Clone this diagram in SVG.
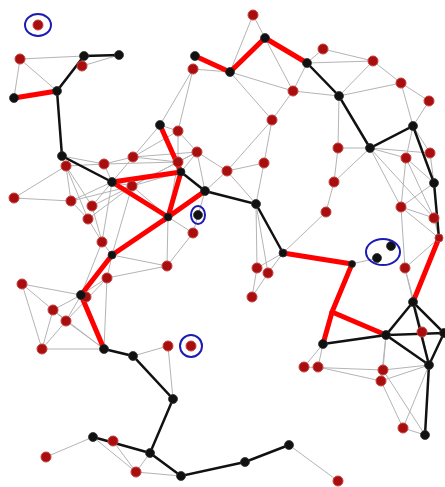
<svg xmlns="http://www.w3.org/2000/svg" width="445" height="487" viewBox="0 0 445 487">
<style>
.g{stroke:#b4b4b4;stroke-width:1;fill:none}
.r{stroke:#ff0000;stroke-width:5;stroke-linecap:round;fill:none}
.k{stroke:#111;stroke-width:2.5;stroke-linecap:round;fill:none}
.rn{fill:#a80e0e;stroke:#c84040;stroke-width:1}
.bn{fill:#111;stroke:#333;stroke-width:0.8}
.ring{fill:none;stroke:#1c1cb4;stroke-width:2}
</style>
<rect width="445" height="487" fill="#fff"/>
<g id="connectors">
<g id="gray">
<line class="g" x1="20" y1="59" x2="84" y2="56"/><line class="g" x1="20" y1="59" x2="57" y2="91"/><line class="g" x1="20" y1="59" x2="14" y2="98"/><line class="g" x1="82" y1="66" x2="119" y2="55"/>
<line class="g" x1="253" y1="15" x2="265" y2="38"/><line class="g" x1="253" y1="15" x2="230" y2="72"/><line class="g" x1="193" y1="69" x2="230" y2="72"/><line class="g" x1="193" y1="69" x2="160" y2="125"/><line class="g" x1="193" y1="69" x2="178" y2="131"/>
<line class="g" x1="230" y1="72" x2="272" y2="120"/><line class="g" x1="230" y1="72" x2="293" y2="91"/><line class="g" x1="265" y1="38" x2="293" y2="91"/><line class="g" x1="293" y1="91" x2="272" y2="120"/><line class="g" x1="293" y1="91" x2="307" y2="63"/><line class="g" x1="293" y1="91" x2="339" y2="96"/>
<line class="g" x1="307" y1="63" x2="323" y2="49"/><line class="g" x1="323" y1="49" x2="373" y2="61"/><line class="g" x1="307" y1="63" x2="373" y2="61"/><line class="g" x1="373" y1="61" x2="401" y2="83"/><line class="g" x1="401" y1="83" x2="429" y2="101"/><line class="g" x1="373" y1="61" x2="339" y2="96"/><line class="g" x1="339" y1="96" x2="401" y2="83"/><line class="g" x1="401" y1="83" x2="413" y2="126"/><line class="g" x1="429" y1="101" x2="413" y2="126"/>
<line class="g" x1="339" y1="96" x2="338" y2="148"/><line class="g" x1="338" y1="148" x2="370" y2="148"/><line class="g" x1="370" y1="148" x2="406" y2="158"/><line class="g" x1="370" y1="148" x2="430" y2="153"/><line class="g" x1="413" y1="126" x2="406" y2="158"/><line class="g" x1="413" y1="126" x2="430" y2="153"/><line class="g" x1="406" y1="158" x2="434" y2="183"/><line class="g" x1="430" y1="153" x2="434" y2="183"/>
<line class="g" x1="338" y1="148" x2="334" y2="182"/><line class="g" x1="334" y1="182" x2="326" y2="212"/><line class="g" x1="370" y1="148" x2="401" y2="207"/><line class="g" x1="370" y1="148" x2="334" y2="182"/><line class="g" x1="370" y1="148" x2="434" y2="218"/><line class="g" x1="406" y1="158" x2="401" y2="207"/><line class="g" x1="401" y1="207" x2="434" y2="183"/><line class="g" x1="406" y1="158" x2="434" y2="218"/><line class="g" x1="401" y1="207" x2="434" y2="218"/><line class="g" x1="401" y1="207" x2="439" y2="238"/><line class="g" x1="434" y1="218" x2="439" y2="238"/><line class="g" x1="326" y1="212" x2="283" y2="253"/>
<line class="g" x1="264" y1="163" x2="272" y2="120"/><line class="g" x1="227" y1="171" x2="272" y2="120"/><line class="g" x1="227" y1="171" x2="264" y2="163"/><line class="g" x1="264" y1="163" x2="256" y2="204"/><line class="g" x1="227" y1="171" x2="256" y2="204"/><line class="g" x1="227" y1="171" x2="205" y2="191"/>
<line class="g" x1="256" y1="204" x2="257" y2="268"/><line class="g" x1="256" y1="204" x2="268" y2="273"/><line class="g" x1="283" y1="253" x2="257" y2="268"/><line class="g" x1="283" y1="253" x2="268" y2="273"/><line class="g" x1="257" y1="268" x2="252" y2="297"/><line class="g" x1="268" y1="273" x2="252" y2="297"/>
<line class="g" x1="197" y1="152" x2="227" y2="171"/><line class="g" x1="197" y1="152" x2="181" y2="172"/><line class="g" x1="197" y1="152" x2="205" y2="191"/><line class="g" x1="178" y1="131" x2="197" y2="152"/><line class="g" x1="178" y1="131" x2="160" y2="125"/><line class="g" x1="178" y1="131" x2="178" y2="162"/><line class="g" x1="197" y1="152" x2="178" y2="162"/>
<line class="g" x1="133" y1="157" x2="160" y2="125"/><line class="g" x1="133" y1="157" x2="178" y2="131"/><line class="g" x1="133" y1="157" x2="197" y2="152"/><line class="g" x1="133" y1="157" x2="178" y2="162"/><line class="g" x1="104" y1="164" x2="133" y2="157"/><line class="g" x1="104" y1="164" x2="112" y2="182"/><line class="g" x1="133" y1="157" x2="112" y2="182"/><line class="g" x1="104" y1="164" x2="178" y2="162"/>
<line class="g" x1="66" y1="166" x2="104" y2="164"/><line class="g" x1="62" y1="156" x2="104" y2="164"/><line class="g" x1="66" y1="166" x2="14" y2="198"/><line class="g" x1="14" y1="198" x2="71" y2="201"/><line class="g" x1="66" y1="166" x2="71" y2="201"/><line class="g" x1="66" y1="166" x2="92" y2="206"/><line class="g" x1="66" y1="166" x2="88" y2="219"/>
<line class="g" x1="112" y1="182" x2="132" y2="186"/><line class="g" x1="132" y1="186" x2="178" y2="162"/><line class="g" x1="132" y1="186" x2="181" y2="172"/><line class="g" x1="132" y1="186" x2="197" y2="152"/><line class="g" x1="71" y1="201" x2="112" y2="182"/><line class="g" x1="92" y1="206" x2="112" y2="182"/><line class="g" x1="71" y1="201" x2="132" y2="186"/><line class="g" x1="92" y1="206" x2="132" y2="186"/><line class="g" x1="88" y1="219" x2="132" y2="186"/><line class="g" x1="88" y1="219" x2="102" y2="242"/><line class="g" x1="92" y1="206" x2="102" y2="242"/><line class="g" x1="71" y1="201" x2="88" y2="219"/>
<line class="g" x1="102" y1="242" x2="112" y2="182"/><line class="g" x1="102" y1="242" x2="112" y2="255"/><line class="g" x1="132" y1="186" x2="112" y2="255"/><line class="g" x1="132" y1="186" x2="168" y2="217"/><line class="g" x1="178" y1="162" x2="168" y2="217"/><line class="g" x1="168" y1="217" x2="193" y2="233"/><line class="g" x1="205" y1="191" x2="193" y2="233"/><line class="g" x1="168" y1="217" x2="167" y2="266"/><line class="g" x1="193" y1="233" x2="167" y2="266"/><line class="g" x1="112" y1="255" x2="167" y2="266"/><line class="g" x1="107" y1="278" x2="167" y2="266"/>
<line class="g" x1="102" y1="242" x2="81" y2="295"/><line class="g" x1="112" y1="255" x2="107" y2="278"/><line class="g" x1="107" y1="278" x2="81" y2="295"/><line class="g" x1="107" y1="278" x2="104" y2="349"/><line class="g" x1="22" y1="284" x2="81" y2="295"/><line class="g" x1="22" y1="284" x2="53" y2="310"/><line class="g" x1="22" y1="284" x2="42" y2="349"/><line class="g" x1="53" y1="310" x2="81" y2="295"/><line class="g" x1="53" y1="310" x2="66" y2="321"/><line class="g" x1="66" y1="321" x2="81" y2="295"/><line class="g" x1="53" y1="310" x2="42" y2="349"/><line class="g" x1="66" y1="321" x2="42" y2="349"/><line class="g" x1="66" y1="321" x2="104" y2="349"/><line class="g" x1="53" y1="310" x2="104" y2="349"/><line class="g" x1="42" y1="349" x2="104" y2="349"/><line class="g" x1="107" y1="278" x2="66" y2="321"/>
<line class="g" x1="168" y1="346" x2="133" y2="356"/><line class="g" x1="168" y1="346" x2="173" y2="399"/>
<line class="g" x1="46" y1="457" x2="93" y2="437"/><line class="g" x1="93" y1="437" x2="136" y2="472"/><line class="g" x1="113" y1="441" x2="136" y2="472"/><line class="g" x1="136" y1="472" x2="150" y2="453"/><line class="g" x1="136" y1="472" x2="181" y2="476"/>
<line class="g" x1="289" y1="445" x2="338" y2="481"/>
<line class="g" x1="323" y1="344" x2="304" y2="367"/><line class="g" x1="323" y1="344" x2="318" y2="367"/><line class="g" x1="304" y1="367" x2="383" y2="370"/><line class="g" x1="318" y1="367" x2="381" y2="381"/><line class="g" x1="383" y1="370" x2="386" y2="335"/><line class="g" x1="381" y1="381" x2="386" y2="335"/><line class="g" x1="383" y1="370" x2="429" y2="365"/><line class="g" x1="381" y1="381" x2="429" y2="365"/><line class="g" x1="381" y1="381" x2="403" y2="428"/><line class="g" x1="383" y1="370" x2="425" y2="435"/><line class="g" x1="403" y1="428" x2="425" y2="435"/><line class="g" x1="429" y1="365" x2="403" y2="428"/>
<line class="g" x1="422" y1="332" x2="413" y2="302"/><line class="g" x1="422" y1="332" x2="429" y2="365"/><line class="g" x1="405" y1="268" x2="422" y2="332"/><line class="g" x1="401" y1="207" x2="405" y2="268"/><line class="g" x1="405" y1="268" x2="413" y2="302"/><line class="g" x1="439" y1="238" x2="405" y2="268"/><line class="g" x1="352" y1="264" x2="377" y2="258"/>
</g>
<g id="red">
<polyline class="r" points="14,98 57,91"/>
<polyline class="r" points="195,56 230,72 265,38 307,63"/>
<polyline class="r" points="160,125 181,172 168,217 205,191"/>
<polyline class="r" points="112,182 181,172"/>
<polyline class="r" points="112,182 168,217 112,255 81,295 104,349"/>
<polyline class="r" points="283,253 352,264 332,312 323,344"/>
<polyline class="r" points="332,312 386,335"/>
<polyline class="r" points="439,238 413,302"/>
</g>
<g id="black">
<polyline class="k" points="119,55 84,56 57,91 62,156 112,182"/>
<polyline class="k" points="181,172 205,191 256,204 283,253"/>
<polyline class="k" points="307,63 339,96 370,148 413,126 434,183 439,238"/>
<polyline class="k" points="323,344 386,335 413,302 444,333 429,365 386,335 444,333"/>
<polyline class="k" points="413,302 429,365 425,435"/>
<polyline class="k" points="104,349 133,356 173,399 150,453 181,476 245,462 289,445"/>
<polyline class="k" points="93,437 150,453"/>
</g>
</g>
<g id="nodes">
<g id="R1"><circle class="rn" cx="38" cy="25" r="5"/></g>
<g id="R2"><circle class="rn" cx="20" cy="59" r="5"/></g>
<g id="R3"><circle class="rn" cx="82" cy="66" r="5"/></g>
<g id="R4"><circle class="rn" cx="253" cy="15" r="5"/></g>
<g id="R5"><circle class="rn" cx="193" cy="69" r="5"/></g>
<g id="R6"><circle class="rn" cx="293" cy="91" r="5"/></g>
<g id="R7"><circle class="rn" cx="272" cy="120" r="5"/></g>
<g id="R8"><circle class="rn" cx="323" cy="49" r="5"/></g>
<g id="R9"><circle class="rn" cx="373" cy="61" r="5"/></g>
<g id="R10"><circle class="rn" cx="401" cy="83" r="5"/></g>
<g id="R11"><circle class="rn" cx="429" cy="101" r="5"/></g>
<g id="R12"><circle class="rn" cx="66" cy="166" r="5"/></g>
<g id="R13"><circle class="rn" cx="104" cy="164" r="5"/></g>
<g id="R14"><circle class="rn" cx="133" cy="157" r="5"/></g>
<g id="R15"><circle class="rn" cx="132" cy="186" r="5"/></g>
<g id="R16"><circle class="rn" cx="14" cy="198" r="5"/></g>
<g id="R17"><circle class="rn" cx="71" cy="201" r="5"/></g>
<g id="R18"><circle class="rn" cx="92" cy="206" r="5"/></g>
<g id="R19"><circle class="rn" cx="88" cy="219" r="5"/></g>
<g id="R20"><circle class="rn" cx="102" cy="242" r="5"/></g>
<g id="R21"><circle class="rn" cx="178" cy="131" r="5"/></g>
<g id="R22"><circle class="rn" cx="197" cy="152" r="5"/></g>
<g id="R23"><circle class="rn" cx="178" cy="162" r="5"/></g>
<g id="R24"><circle class="rn" cx="227" cy="171" r="5"/></g>
<g id="R25"><circle class="rn" cx="264" cy="163" r="5"/></g>
<g id="R27"><circle class="rn" cx="193" cy="233" r="5"/></g>
<g id="R28"><circle class="rn" cx="338" cy="148" r="5"/></g>
<g id="R29"><circle class="rn" cx="406" cy="158" r="5"/></g>
<g id="R30"><circle class="rn" cx="430" cy="153" r="5"/></g>
<g id="R31"><circle class="rn" cx="334" cy="182" r="5"/></g>
<g id="R32"><circle class="rn" cx="401" cy="207" r="5"/></g>
<g id="R33"><circle class="rn" cx="326" cy="212" r="5"/></g>
<g id="R34"><circle class="rn" cx="434" cy="218" r="5"/></g>
<g id="R35"><circle class="rn" cx="22" cy="284" r="5"/></g>
<g id="R36"><circle class="rn" cx="107" cy="278" r="5"/></g>
<g id="R37"><circle class="rn" cx="86" cy="297" r="5"/></g>
<g id="R38"><circle class="rn" cx="53" cy="310" r="5"/></g>
<g id="R39"><circle class="rn" cx="66" cy="321" r="5"/></g>
<g id="R40"><circle class="rn" cx="42" cy="349" r="5"/></g>
<g id="R41"><circle class="rn" cx="167" cy="266" r="5"/></g>
<g id="R42"><circle class="rn" cx="257" cy="268" r="5"/></g>
<g id="R43"><circle class="rn" cx="268" cy="273" r="5"/></g>
<g id="R44"><circle class="rn" cx="252" cy="297" r="5"/></g>
<g id="R45"><circle class="rn" cx="168" cy="346" r="5"/></g>
<g id="R46"><circle class="rn" cx="191" cy="346" r="5"/></g>
<g id="R47"><circle class="rn" cx="405" cy="268" r="5"/></g>
<g id="R48"><circle class="rn" cx="422" cy="332" r="5"/></g>
<g id="R49"><circle class="rn" cx="304" cy="367" r="5"/></g>
<g id="R50"><circle class="rn" cx="318" cy="367" r="5"/></g>
<g id="R51"><circle class="rn" cx="383" cy="370" r="5"/></g>
<g id="R52"><circle class="rn" cx="381" cy="381" r="5"/></g>
<g id="R53"><circle class="rn" cx="403" cy="428" r="5"/></g>
<g id="R54"><circle class="rn" cx="338" cy="481" r="5"/></g>
<g id="R55"><circle class="rn" cx="113" cy="441" r="5"/></g>
<g id="R56"><circle class="rn" cx="46" cy="457" r="5"/></g>
<g id="R57"><circle class="rn" cx="136" cy="472" r="5"/></g>
<g id="R58"><circle class="rn" cx="439" cy="238" r="4"/></g>
<g id="B1"><circle class="bn" cx="14" cy="98" r="4.5"/></g>
<g id="B2"><circle class="bn" cx="57" cy="91" r="4.5"/></g>
<g id="B3"><circle class="bn" cx="84" cy="56" r="4.5"/></g>
<g id="B4"><circle class="bn" cx="119" cy="55" r="4.5"/></g>
<g id="B5"><circle class="bn" cx="62" cy="156" r="4.5"/></g>
<g id="B6"><circle class="bn" cx="112" cy="182" r="4.5"/></g>
<g id="B7"><circle class="bn" cx="160" cy="125" r="4.5"/></g>
<g id="B8"><circle class="bn" cx="181" cy="172" r="4"/></g>
<g id="B9"><circle class="bn" cx="168" cy="217" r="4"/></g>
<g id="B10"><circle class="bn" cx="205" cy="191" r="4.5"/></g>
<g id="B11"><circle class="bn" cx="256" cy="204" r="4.5"/></g>
<g id="B12"><circle class="bn" cx="198" cy="215" r="4.5"/></g>
<g id="B13"><circle class="bn" cx="195" cy="56" r="4.5"/></g>
<g id="B14"><circle class="bn" cx="230" cy="72" r="4.5"/></g>
<g id="B15"><circle class="bn" cx="265" cy="38" r="4.5"/></g>
<g id="B16"><circle class="bn" cx="307" cy="63" r="4.5"/></g>
<g id="B17"><circle class="bn" cx="339" cy="96" r="4.5"/></g>
<g id="B18"><circle class="bn" cx="370" cy="148" r="4.5"/></g>
<g id="B19"><circle class="bn" cx="413" cy="126" r="4.5"/></g>
<g id="B20"><circle class="bn" cx="434" cy="183" r="4.5"/></g>
<g id="B21"><circle class="bn" cx="283" cy="253" r="4"/></g>
<g id="B22"><circle class="bn" cx="352" cy="264" r="3.5"/></g>
<g id="B23"><circle class="bn" cx="391" cy="246" r="4.5"/></g>
<g id="B24"><circle class="bn" cx="377" cy="258" r="4.5"/></g>
<g id="B25"><circle class="bn" cx="112" cy="255" r="4"/></g>
<g id="B26"><circle class="bn" cx="81" cy="295" r="4.5"/></g>
<g id="B27"><circle class="bn" cx="104" cy="349" r="4.5"/></g>
<g id="B28"><circle class="bn" cx="133" cy="356" r="4.5"/></g>
<g id="B29"><circle class="bn" cx="173" cy="399" r="4.5"/></g>
<g id="B30"><circle class="bn" cx="150" cy="453" r="4.5"/></g>
<g id="B31"><circle class="bn" cx="181" cy="476" r="4.5"/></g>
<g id="B32"><circle class="bn" cx="245" cy="462" r="4.5"/></g>
<g id="B33"><circle class="bn" cx="289" cy="445" r="4.5"/></g>
<g id="B34"><circle class="bn" cx="93" cy="437" r="4.5"/></g>
<g id="B35"><circle class="bn" cx="413" cy="302" r="4.5"/></g>
<g id="B37"><circle class="bn" cx="323" cy="344" r="4.5"/></g>
<g id="B38"><circle class="bn" cx="386" cy="335" r="4.5"/></g>
<g id="B39"><circle class="bn" cx="444" cy="333" r="4.5"/></g>
<g id="B40"><circle class="bn" cx="429" cy="365" r="4.5"/></g>
<g id="B41"><circle class="bn" cx="425" cy="435" r="4.5"/></g>
</g>
<g id="marks">
<ellipse class="ring" cx="38" cy="25" rx="13" ry="11"/>
<ellipse class="ring" cx="198" cy="215" rx="7" ry="9"/>
<ellipse class="ring" cx="191" cy="346" rx="11" ry="11"/>
<ellipse class="ring" cx="383" cy="252" rx="17" ry="13"/>
</g>
</svg>
